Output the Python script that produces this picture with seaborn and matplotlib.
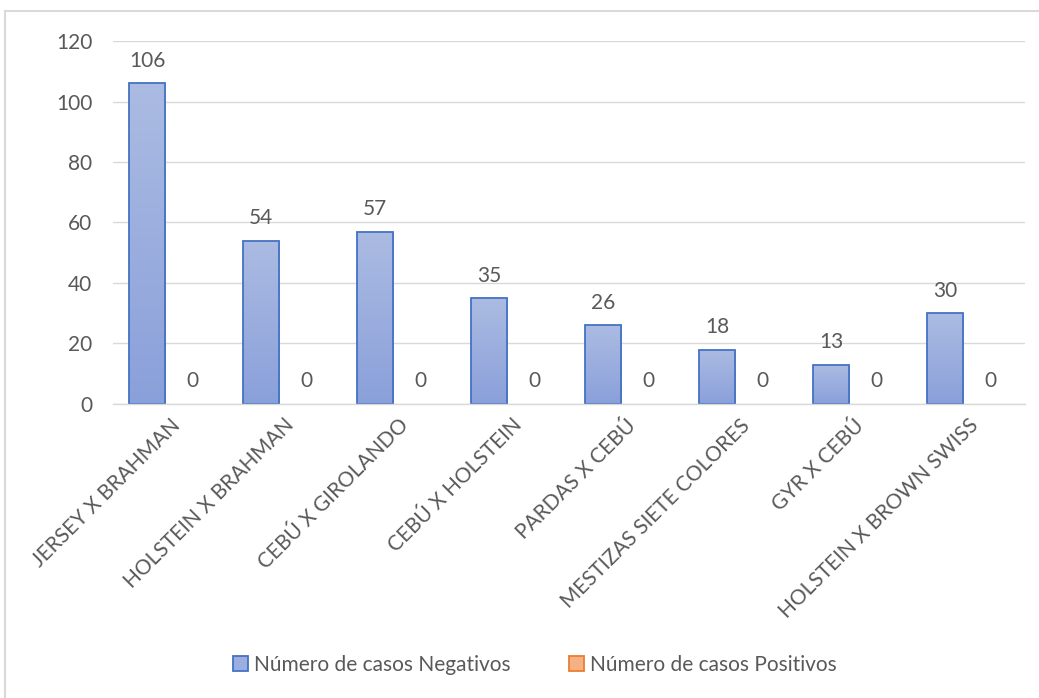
import numpy as np
import pandas as pd
import matplotlib
matplotlib.use("Agg")
import matplotlib.pyplot as plt
from matplotlib.patches import Rectangle
import seaborn as sns

categories = ["JERSEY X BRAHMAN", "HOLSTEIN X BRAHMAN", "CEBÚ X GIROLANDO",
              "CEBÚ X HOLSTEIN", "PARDAS X CEBÚ", "MESTIZAS SIETE COLORES",
              "GYR X CEBÚ", "HOLSTEIN X BROWN SWISS"]
negativos = [106, 54, 57, 35, 26, 18, 13, 30]
positivos = [0, 0, 0, 0, 0, 0, 0, 0]
series = ["Número de casos Negativos", "Número de casos Positivos"]
yticks = [0, 20, 40, 60, 80, 100, 120]

df = pd.DataFrame({
    "categoria": categories * 2,
    "serie": [series[0]] * len(categories) + [series[1]] * len(categories),
    "valor": negativos + positivos,
})

sns.set_theme(style="white")
plt.rcParams["font.family"] = ["Lato", "DejaVu Sans"]
text_color = "#595959"
grid_color = "#d9d9d9"
fs = 15

fig = plt.figure(figsize=(10.39, 6.98), dpi=100)
ax = fig.add_axes([113 / 1039, 1 - 404 / 698, (1025 - 113) / 1039, (404 - 41) / 698])

palette = {series[0]: "#9caedf", series[1]: "#f4b183"}
sns.barplot(data=df, x="categoria", y="valor", hue="serie", palette=palette,
            width=0.8, gap=0.2, dodge=True, ax=ax, legend=False,
            edgecolor="#4472c4", linewidth=1.3, saturation=1, errorbar=None)

# vertical gradient fill inside each negative bar; zero-height bars stay invisible
grad = np.linspace(0, 1, 256).reshape(-1, 1)
cmap = matplotlib.colors.LinearSegmentedColormap.from_list(
    "bar", ["#8aa0da", "#abbbe2"])
for cont, s in zip(ax.containers, series):
    for p in cont.patches:
        if p.get_height() > 0:
            x0, y0 = p.get_x(), p.get_y()
            w, h = p.get_width(), p.get_height()
            im = ax.imshow(grad, cmap=cmap, origin="lower", aspect="auto",
                           extent=[x0, x0 + w, y0, y0 + h], zorder=p.get_zorder())
            im.set_clip_path(p)
            p.set_facecolor("none")
            p.set_zorder(p.get_zorder() + 0.5)
        else:
            p.set_linewidth(0)
            p.set_edgecolor("none")
    ax.bar_label(cont, labels=[f"{v:g}" for v in cont.datavalues],
                 padding=9, fontsize=fs, color=text_color)

ax.set_xlim(-0.5, len(categories) - 0.5)
ax.set_ylim(0, 120)
ax.set_yticks(yticks)
ax.yaxis.grid(True, color=grid_color, linewidth=1)
ax.set_axisbelow(True)
for side in ["top", "right", "left"]:
    ax.spines[side].set_visible(False)
ax.spines["bottom"].set_color(grid_color)
ax.spines["bottom"].set_linewidth(1)
ax.set_xlabel("")
ax.set_ylabel("")
ax.tick_params(axis="both", length=0, labelsize=fs, colors=text_color)
ax.tick_params(axis="y", pad=15)
ax.tick_params(axis="x", pad=8)
plt.setp(ax.get_xticklabels(), rotation=45, ha="right", rotation_mode="anchor")

handles = [Rectangle((0, 0), 1, 1, facecolor="#9caedf", edgecolor="#4472c4", linewidth=1.3),
           Rectangle((0, 0), 1, 1, facecolor="#f4b183", edgecolor="#ed7d31", linewidth=1.3)]
fig.legend(handles, series, loc="center", bbox_to_anchor=(0.515, 1 - 665 / 698),
           ncol=2, frameon=False, fontsize=fs, handlelength=0.7, handleheight=0.7,
           handletextpad=0.3, columnspacing=2.8, labelcolor=text_color)

fig.patches.append(Rectangle((5 / 1039, -0.01), 1.02, 1 - 11 / 698 + 0.01,
                             transform=fig.transFigure, fill=False,
                             edgecolor="#d9d9d9", linewidth=1.5))

fig.savefig("out.png", dpi=100)
